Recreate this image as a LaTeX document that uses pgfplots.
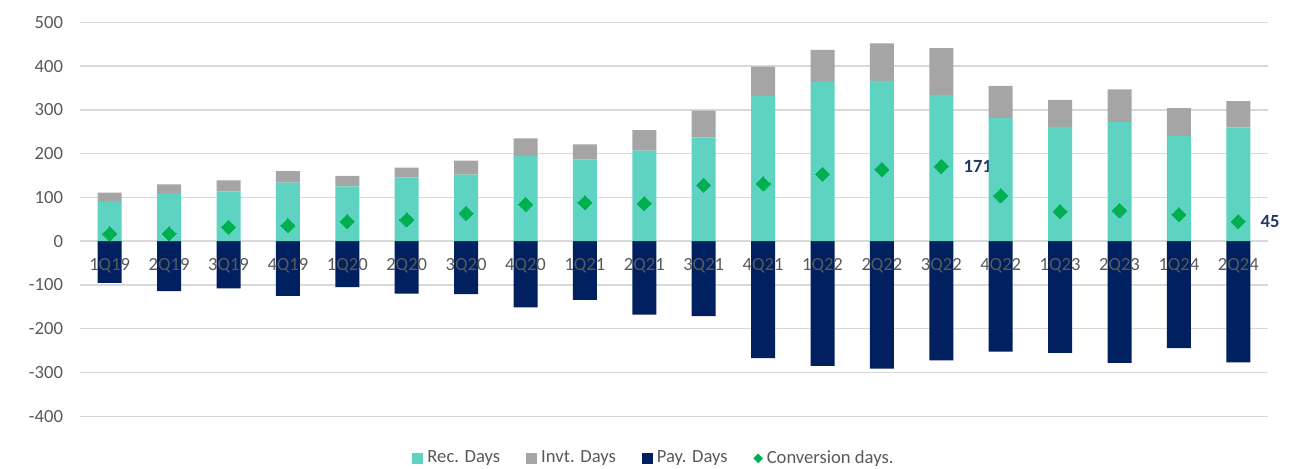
\documentclass[border=0pt]{standalone}
\usepackage{pgfplots}
\pgfplotsset{compat=1.18}
\usepackage{pgfplotstable}
\usepackage{fontspec}
\setmainfont{Carlito}

\definecolor{recc}{HTML}{5ED3C1}
\definecolor{invc}{HTML}{A5A5A5}
\definecolor{payc}{HTML}{002060}
\definecolor{convc}{HTML}{00B050}
\definecolor{gridc}{HTML}{D9D9D9}
\definecolor{tickc}{HTML}{595959}
\definecolor{labc}{HTML}{203864}

% quarter rec inv pay conv (days)
\pgfplotstableread{
idx rec inv pay conv
0  90  21  -95  17
1  108 22  -114 17
2  114 25  -108 32
3  134 26  -125 36
4  125 24  -105 45
5  146 22  -120 49
6  152 32  -121 64
7  195 40  -151 84
8  187 34  -134 88
9  207 47  -168 86
10 237 61  -171 128
11 332 67  -267 131
12 364 73  -285 153
13 366 86  -291 164
14 334 107 -272 171
15 281 74  -252 104
16 261 62  -255 68
17 272 75  -278 70
18 240 64  -244 61
19 260 60  -277 45
}\ccc

\begin{document}
\begin{tikzpicture}
\begin{axis}[
  set layers,
  width=594bp, height=197bp, scale only axis,
  xmin=-0.5, xmax=19.5, ymin=-400, ymax=500,
  ytick={-400,-300,...,500},
  xtick={0,...,19},
  xticklabels={1Q19,2Q19,3Q19,4Q19,1Q20,2Q20,3Q20,4Q20,1Q21,2Q21,3Q21,4Q21,1Q22,2Q22,3Q22,4Q22,1Q23,2Q23,1Q24,2Q24},
  axis line style={draw=none},
  major tick length=0pt,
  ymajorgrids, grid style={line width=0.75bp, color=gridc},
  ybar stacked, bar width=12bp,
  font=\fontsize{9.3bp}{11bp}\selectfont,
  tick label style={text=tickc, font=\fontsize{9.3bp}{11bp}\selectfont},
  /pgf/number format/assume math mode=true,
  yticklabel style={xshift=-5bp},
  xticklabel style={anchor=center, yshift=75.5bp, /pgfplots/on layer=axis foreground},
  legend style={at={(0.484,0)}, anchor=center, yshift=-21bp, draw=none, fill=none,
    text=tickc, font=\fontsize{9.3bp}{11bp}\selectfont,
    /tikz/every even column/.append style={column sep=11bp}},
  legend columns=-1,
  clip=false,
]
\addplot[fill=recc, draw=none,
  legend image code/.code={\fill[recc] (0bp,-2.75bp) rectangle (5.5bp,2.75bp);}]
  table[x=idx, y=rec] {\ccc};
\addlegendentry{Rec. Days}
\addplot[fill=invc, draw=none,
  legend image code/.code={\fill[invc] (0bp,-2.75bp) rectangle (5.5bp,2.75bp);}]
  table[x=idx, y=inv] {\ccc};
\addlegendentry{Invt. Days}
\addplot[fill=payc, draw=none, stack plots=false,
  legend image code/.code={\fill[payc] (0bp,-2.75bp) rectangle (5.5bp,2.75bp);}]
  table[x=idx, y=pay] {\ccc};
\addlegendentry{Pay. Days}
\addplot[stack plots=false, only marks, color=convc, mark=square*, mark size=2.5bp,
  mark options={rotate=45, fill=convc, draw=convc, line width=0pt},
  legend image code/.code={\fill[convc] (2.75bp,0bp) +(0bp,-2.1bp) -- +(2.1bp,0bp) -- +(0bp,2.1bp) -- +(-2.1bp,0bp) -- cycle;}]
  table[x=idx, y=conv] {\ccc};
\addlegendentry{Conversion days.}
\node[anchor=west, text=labc, font=\bfseries\fontsize{9.3bp}{11bp}\selectfont, inner sep=1bp]
  at (axis cs:14,171) [xshift=10bp] {171};
\node[anchor=west, text=labc, font=\bfseries\fontsize{9.3bp}{11bp}\selectfont, inner sep=1bp]
  at (axis cs:19,45) [xshift=10bp] {45};
\end{axis}
\pgfresetboundingbox
\useasboundingbox (-40bp,-26.35bp) rectangle (612bp,208.15bp);
\end{tikzpicture}
\end{document}
